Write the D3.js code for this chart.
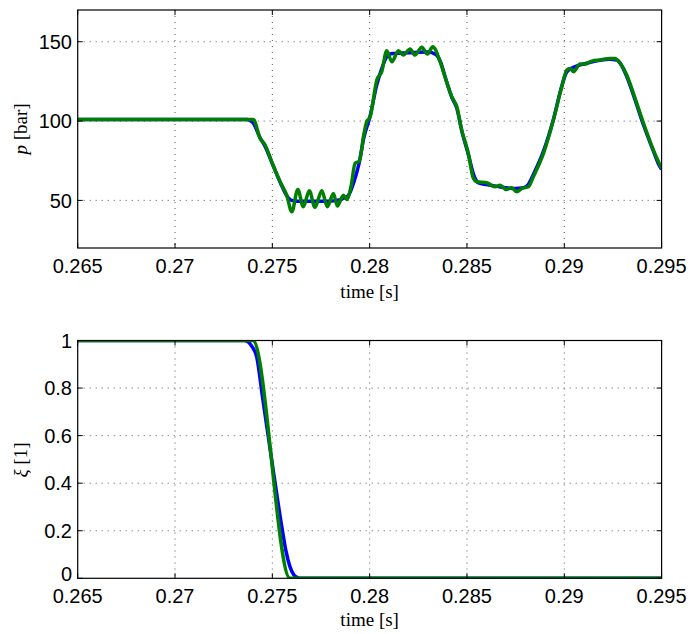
<!DOCTYPE html>
<html lang="en">
<head>
<meta charset="UTF-8">
<title>pressure / xi</title>
<script src="https://d3js.org/d3.v7.min.js"></script>
<style>
    body { margin: 0; background: #fff; }
    .tick-label { font-family: "Liberation Sans", Arial, sans-serif; font-size: 20px; fill: #000; }
    .ax-label { font-family: "Liberation Serif", "DejaVu Serif", serif; font-size: 19px; fill: #000; }
</style>
</head>
<body>
<div class="canvas"></div>
<script>
const width = 691;
const height = 634;

// tick values
const timeTicks = [0.265, 0.27, 0.275, 0.28, 0.285, 0.29, 0.295];
const pTicks = [50, 100, 150];
const xiTicks = [0, 0.2, 0.4, 0.6, 0.8, 1];

// pressure, blue series
const pBlueT = [0.265, 0.27370, 0.27400, 0.27437, 0.27463, 0.27497, 0.27540, 0.27574, 0.27600, 0.27630,
    0.27700, 0.27780, 0.27850, 0.27890, 0.27920, 0.27945, 0.27971, 0.28000, 0.28037, 0.28065,
    0.28085, 0.28110, 0.28200, 0.28300, 0.28340, 0.28365, 0.28390, 0.28422, 0.28448, 0.28473,
    0.28507, 0.28535, 0.28560, 0.28600, 0.28650, 0.28700, 0.28750, 0.28790, 0.28815, 0.28840,
    0.28893, 0.28944, 0.28987, 0.29013, 0.29050, 0.29100, 0.29150, 0.29230, 0.29270, 0.29290,
    0.29321, 0.29355, 0.29407, 0.29458, 0.29484, 0.295];
const pBlueV = [101, 101, 99, 89.5, 84, 74, 61.5, 53, 50, 49.5,
    49.5, 49.5, 50.5, 53, 62, 73, 90, 102, 123, 134,
    140, 142.5, 143, 143.5, 142, 137, 127, 115, 108, 94,
    79, 66, 61, 60, 59, 58, 57.5, 58, 60, 66,
    81, 101, 122, 131, 134, 136, 137.5, 139, 138.5, 136,
    128, 116.5, 97.5, 81, 73, 69.5];

// pressure, green series
const pGreenT = [0.265, 0.27402, 0.27437, 0.27463, 0.27497, 0.27540, 0.27574, 0.27600, 0.27631, 0.27659,
    0.27690, 0.27719, 0.27754, 0.27783, 0.27814, 0.27834, 0.27865, 0.27882, 0.27904, 0.27925,
    0.27947, 0.27971, 0.27985, 0.28002, 0.28037, 0.28062, 0.28088, 0.28114, 0.28148, 0.28173,
    0.28208, 0.28233, 0.28268, 0.28297, 0.28324, 0.28362, 0.28387, 0.28422, 0.28448, 0.28473,
    0.28507, 0.28533, 0.28550, 0.28602, 0.28644, 0.28670, 0.28701, 0.28730, 0.28756, 0.28782,
    0.28816, 0.28841, 0.28893, 0.28944, 0.28987, 0.29013, 0.29030, 0.29047, 0.29081, 0.29107,
    0.29141, 0.29184, 0.29235, 0.29261, 0.29287, 0.29321, 0.29355, 0.29407, 0.29458, 0.29484, 0.295];
const pGreenV = [101, 101, 89.1, 84.9, 74.3, 61.7, 53.3, 42.8, 56.9, 46,
    56.1, 45.6, 56.1, 46, 54.4, 46.4, 53.3, 50.6, 58.6, 73.3,
    74.8, 92.2, 99.6, 102.5, 125.9, 131.1, 144.3, 137.4, 144.3, 141.6,
    145.4, 141.6, 146.5, 142.2, 146.8, 137.4, 127.9, 115.3, 109, 94.3,
    79.6, 63.9, 61.7, 61.1, 58.6, 59.6, 56.9, 57.9, 55.4, 57.6,
    58.6, 64.9, 79.6, 100.6, 121.6, 132.2, 133.2, 131.1, 135.9, 135.9,
    137.8, 138.5, 139.5, 139.5, 136.4, 129, 117.5, 98.6, 81.7, 74.3, 70.2];

// xi, blue and green series
const xiBlueT = [0.265, 0.27355, 0.27375, 0.27395, 0.27420, 0.27450, 0.27500, 0.27550, 0.27570, 0.27590,
    0.27610, 0.27630, 0.27645, 0.295];
const xiBlueV = [1, 1, 0.995, 0.975, 0.93, 0.76, 0.48, 0.21, 0.115, 0.05,
    0.015, 0.003, 0, 0];
const xiGreenT = [0.265, 0.27400, 0.27591, 0.295];
const xiGreenV = [1, 1, 0, 0];

const svg = d3.select('.canvas').append('svg')
    .attr('width', width)
    .attr('height', height);

const [left, right] = [77.7, 661.6];

const x = d3.scaleLinear().domain([0.265, 0.295]).range([left, right]);

function panel(top, bottom, yDomain, yTicks, tLab, series, xLabBase, labBase, ylabY, ylabParts) {
    const y = d3.scaleLinear().domain(yDomain).range([bottom, top]);
    const g = svg.append('g');
    const id = 'clip' + Math.round(top);
    svg.append('clipPath').attr('id', id).append('rect')
        .attr('x', left).attr('y', top).attr('width', right - left).attr('height', bottom - top);

    // grid
    g.selectAll('.vg').data(timeTicks.slice(1, -1)).enter().append('line')
        .attr('x1', d => x(d)).attr('x2', d => x(d)).attr('y1', top).attr('y2', bottom)
        .attr('stroke', '#444').attr('stroke-width', 0.9).attr('stroke-dasharray', '1,5');
    g.selectAll('.hg').data(yTicks.filter(d => y(d) > top + 1 && y(d) < bottom - 1)).enter().append('line')
        .attr('x1', left).attr('x2', right).attr('y1', d => y(d)).attr('y2', d => y(d))
        .attr('stroke', '#444').attr('stroke-width', 0.9).attr('stroke-dasharray', '1,5');

    // lines
    const line = d3.line().x(d => x(d[0])).y(d => y(d[1])).curve(d3.curveMonotoneX);
    series.forEach(s => {
        g.append('path')
            .datum(d3.zip(s.t, s.v))
            .attr('d', line)
            .attr('fill', 'none')
            .attr('stroke', s.color)
            .attr('stroke-width', 3.5)
            .attr('stroke-linejoin', 'round')
            .attr('clip-path', `url(#${id})`);
    });

    // box
    g.append('rect').attr('x', left).attr('y', top).attr('width', right - left).attr('height', bottom - top)
        .attr('fill', 'none').attr('stroke', '#000').attr('stroke-width', 1.2);

    // inside ticks
    timeTicks.forEach(d => {
        g.append('line').attr('x1', x(d)).attr('x2', x(d)).attr('y1', bottom).attr('y2', bottom - 5).attr('stroke', '#000');
        g.append('line').attr('x1', x(d)).attr('x2', x(d)).attr('y1', top).attr('y2', top + 5).attr('stroke', '#000');
    });
    yTicks.forEach(d => {
        g.append('line').attr('x1', left).attr('x2', left + 5).attr('y1', y(d)).attr('y2', y(d)).attr('stroke', '#000');
        g.append('line').attr('x1', right).attr('x2', right - 5).attr('y1', y(d)).attr('y2', y(d)).attr('stroke', '#000');
    });

    // tick labels
    g.selectAll('.xt').data(timeTicks).enter().append('text')
        .attr('class', 'tick-label')
        .attr('x', d => x(d)).attr('y', xLabBase)
        .attr('text-anchor', 'middle')
        .text(d => String(d));
    g.selectAll('.yt').data(yTicks).enter().append('text')
        .attr('class', 'tick-label')
        .attr('x', 72).attr('y', d => y(d)).attr('dy', d => (y(d) > bottom - 1 ? '0.12em' : '0.36em'))
        .attr('text-anchor', 'end')
        .text(d => String(d));

    // axis labels
    g.append('text').attr('class', 'ax-label')
        .attr('x', (left + right) / 2).attr('y', labBase)
        .attr('text-anchor', 'middle').text(tLab);
    const yl = g.append('text').attr('class', 'ax-label')
        .attr('transform', `translate(27, ${ylabY}) rotate(-90)`)
        .attr('text-anchor', 'middle');
    yl.append('tspan').attr('font-style', 'italic').text(ylabParts[0]);
    yl.append('tspan').text(ylabParts[1]);
}

panel(10, 248, [20, 170], pTicks, 'time [s]',
    [{t: pBlueT, v: pBlueV, color: '#0000ff'}, {t: pGreenT, v: pGreenV, color: '#008000'}],
    273, 298, 129, ['p', ' [bar]']);

panel(340.5, 578.3, [0, 1], xiTicks, 'time [s]',
    [{t: xiBlueT, v: xiBlueV, color: '#0000ff'}, {t: xiGreenT, v: xiGreenV, color: '#008000'}],
    603, 626, 460, ['ξ', ' [1]']);
</script>
</body>
</html>
